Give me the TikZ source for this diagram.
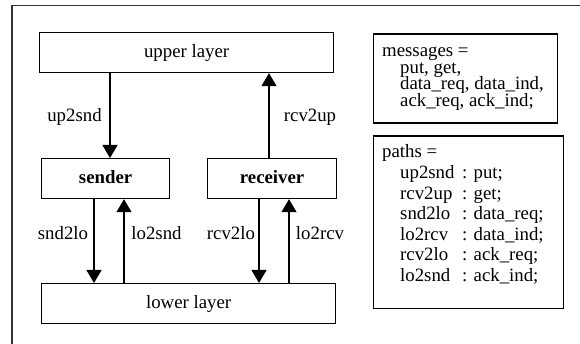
\documentclass[tikz,border=0pt]{standalone}
\usepackage{fontspec}
\setmainfont{Liberation Serif}
\usetikzlibrary{arrows.meta}
\newcommand{\pline}[2]{\hbox{\hspace{18pt}\makebox[62pt][l]{#1}: #2}}
\begin{document}
\begin{tikzpicture}[x=1pt,y=-1pt,
  box/.style={draw, line width=1.2pt, inner sep=0pt, anchor=north west},
  arr/.style={line width=1.2pt, -{Triangle[width=15pt,length=13pt]}},
  lbl/.style={inner sep=0pt, anchor=base, font=\fontsize{18.8}{20}\selectfont},
  txt/.style={inner sep=0pt, anchor=base west, font=\fontsize{18.8}{20}\selectfont}]
\useasboundingbox (0,0) rectangle (580,344);
\clip (0,0) rectangle (580,344);
\draw[line width=1.5pt, black!80] (12,5.5) rectangle (600,360);
% boxes
\node[box, minimum width=294pt, minimum height=40pt] (upper) at (39,32) {};
\node[lbl] (upperT) at ([yshift=-4.5pt]upper.center) {upper layer};
\node[box, minimum width=128pt, minimum height=40pt] (sender) at (41,158) {};
\node[lbl, font=\fontsize{18.8}{20}\selectfont\bfseries] (senderT) at ([yshift=-4.5pt]sender.center) {sender};
\node[box, minimum width=129pt, minimum height=40pt] (receiver) at (207,158) {};
\node[lbl, font=\fontsize{18.8}{20}\selectfont\bfseries] (receiverT) at ([yshift=-4.5pt]receiver.center) {receiver};
\node[box, minimum width=294pt, minimum height=40pt] (lower) at (41,283) {};
\node[lbl] (lowerT) at ([yshift=-4.5pt]lower.center) {lower layer};
% x positions of connectors
\coordinate (xa) at (110,0);
\coordinate (xb) at (269,0);
\coordinate (xc) at (94,0);
\coordinate (xd) at (124,0);
\coordinate (xe) at (259,0);
\coordinate (xf) at (289,0);
\draw[arr] (upper.south -| xa) -- (sender.north -| xa);
\draw[arr] (receiver.north -| xb) -- (upper.south -| xb);
\draw[arr] (sender.south -| xc) -- (lower.north -| xc);
\draw[arr] (lower.north -| xd) -- (sender.south -| xd);
\draw[arr] (receiver.south -| xe) -- (lower.north -| xe);
\draw[arr] (lower.north -| xf) -- (receiver.south -| xf);
% connector labels
\node[lbl] (l1) at (74.5,122) {up2snd};
\node[lbl] (l2) at (310,122) {rcv2up};
\node[lbl] (l3) at (63,240) {snd2lo};
\node[lbl] (l4) at (156.5,240) {lo2snd};
\node[lbl] (l5) at (231,240) {rcv2lo};
\node[lbl] (l6) at (320,240) {lo2rcv};
% messages box
\node[box, minimum width=184pt, minimum height=89pt] (msgbox) at (373,33.5) {};
\node[txt] (msgs) at (382,57) {\vtop{\baselineskip=16.5pt\lineskiplimit=-20pt
  \hbox{messages =}
  \hbox{\hspace{18pt}put, get,}
  \hbox{\hspace{18pt}data\_req, data\_ind,}
  \hbox{\hspace{18pt}ack\_req, ack\_ind;}}};
% paths box
\node[box, minimum width=190pt, minimum height=172pt] (pathbox) at (373,135.5) {};
\node[txt] (paths) at (382,158) {\vtop{\baselineskip=20.6pt\lineskiplimit=-20pt
  \hbox{paths =}
  \pline{up2snd}{put;}
  \pline{rcv2up}{get;}
  \pline{snd2lo}{data\_req;}
  \pline{lo2rcv}{data\_ind;}
  \pline{rcv2lo}{ack\_req;}
  \pline{lo2snd}{ack\_ind;}}};
\end{tikzpicture}
\end{document}
